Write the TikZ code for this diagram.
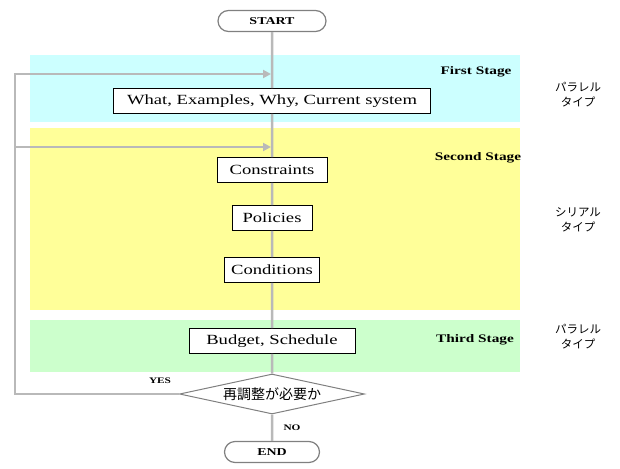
\documentclass[tikz,border=0pt]{standalone}
\usepackage{fontspec}
\setmainfont{Liberation Serif}[FakeStretch=1.33]
\newfontfamily\jpfont{Noto Sans CJK JP}
\usepackage{xcolor}
\definecolor{StageCyan}{RGB}{204,255,255}
\definecolor{StageYellow}{RGB}{255,255,153}
\definecolor{StageGreen}{RGB}{204,255,204}
\definecolor{FlowGray}{RGB}{185,185,185}
\usepackage{tikz}
\usetikzlibrary{positioning, arrows.meta, shapes.geometric, shapes.misc}

\begin{document}
\begin{tikzpicture}[x=1pt, y=-1pt,
  flow/.style={draw=FlowGray, line width=2.5pt},
  flowarrow/.style={flow, -{Triangle[length=8pt,width=8pt]}},
  stepbox/.style={draw, fill=white, line width=0.8pt, minimum height=25pt,
    inner sep=0pt, font=\fontsize{14}{16}\selectfont},
  terminal/.style={rounded rectangle, draw=gray, line width=1.2pt, fill=white,
    minimum height=21pt, inner sep=0pt, font=\bfseries\fontsize{10.5}{12}\selectfont},
  decision/.style={diamond, aspect=4.6, draw=gray, line width=1pt, fill=white, inner sep=0pt,
    minimum width=185pt, minimum height=40pt, font=\jpfont\fontsize{14}{16}\selectfont},
  stagelabel/.style={font=\bfseries\fontsize{11.5}{13}\selectfont},
  typelabel/.style={align=center, font=\jpfont\fontsize{11.5}{15}\selectfont},
  branchlabel/.style={font=\bfseries\fontsize{8.5}{10}\selectfont}]
\useasboundingbox (0,0) rectangle (620,468);
% Stages
\fill[StageCyan] (30,55) rectangle (520,122);
\fill[StageYellow] (30,128) rectangle (520,310);
\fill[StageGreen] (30,320) rectangle (520,372);
\node[stagelabel] (first) at (476,72) {First Stage};
\node[stagelabel] (second) at (478,158) {Second Stage};
\node[stagelabel] (third) at (475,340) {Third Stage};
% Types
\node[typelabel] (type1) at (578,95) {パラレル\\タイプ};
\node[typelabel] (type2) at (578,220) {シリアル\\タイプ};
\node[typelabel] (type3) at (578,337) {パラレル\\タイプ};
% Flow
\node[terminal, minimum width=108pt] (start) at (272,21) {START};
\node[stepbox, minimum width=317pt] (what) at (272,101) {What, Examples, Why, Current system};
\node[stepbox, minimum width=110pt] (cons) at (272,170) {Constraints};
\node[stepbox, minimum width=80pt] (pol) at (272,218) {Policies};
\node[stepbox, minimum width=95pt] (cond) at (272,270) {Conditions};
\node[stepbox, minimum width=166pt] (budget) at (272,341) {Budget, Schedule};
\node[decision] (dec) at (272,394) {再調整が必要か};
\node[terminal, minimum width=95pt] (end) at (272,452) {END};
\draw[flow] (start) -- (what) -- (cons) -- (pol) -- (cond) -- (budget) -- (dec) -- (end);
% Loop back
\coordinate (loop1) at (15,74);
\coordinate (loop2) at (15,147);
\coordinate (j1) at (271,74);
\coordinate (j2) at (271,147);
\draw[flowarrow] (dec.west) -| (loop1) -- (j1);
\draw[flowarrow] (loop2) -- (j2);
\node[branchlabel] (yes) at (160,381) {YES};
\node[branchlabel] (no) at (292,428) {NO};
\end{tikzpicture}
\end{document}
